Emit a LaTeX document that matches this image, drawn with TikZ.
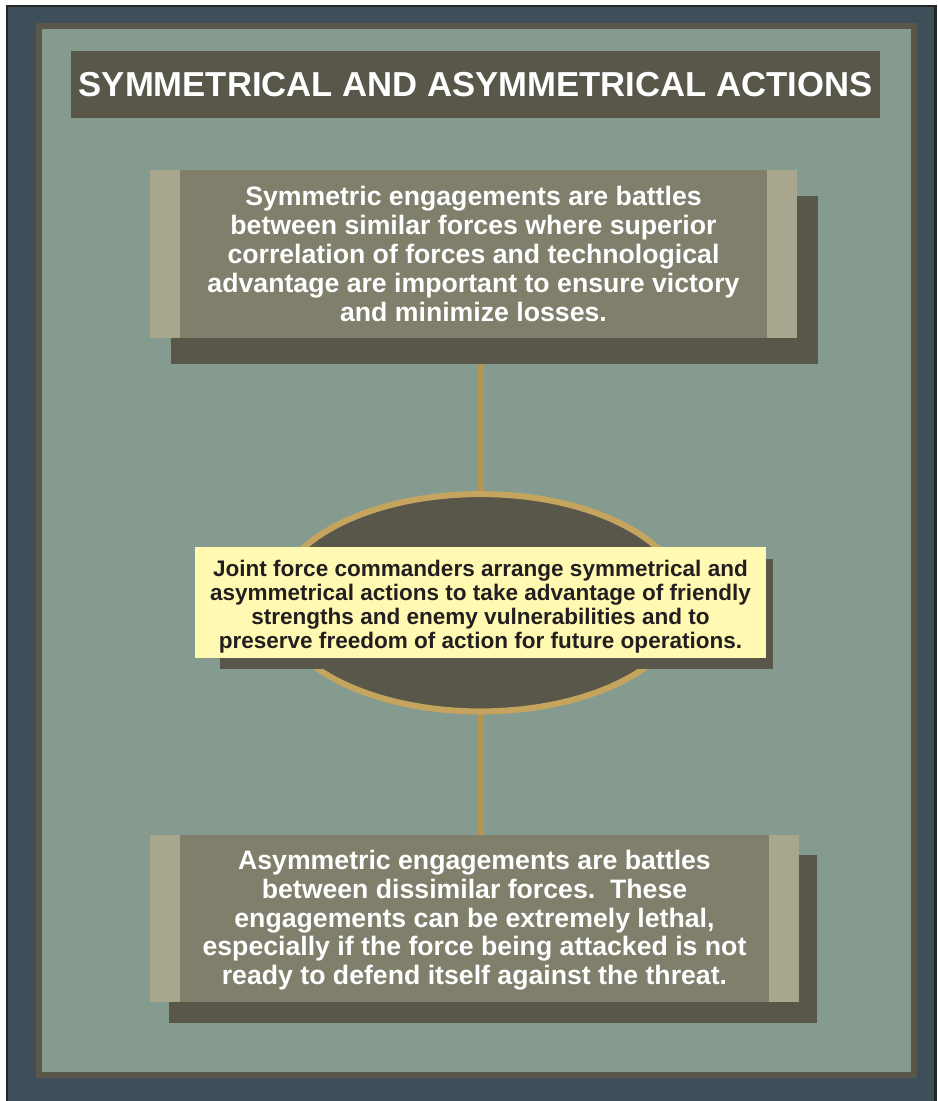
\documentclass[tikz,border=0pt]{standalone}
\usepackage{fontspec}
\setmainfont{Liberation Sans}
\usetikzlibrary{shapes.geometric,positioning}

\definecolor{slate}{HTML}{3F4F59}
\definecolor{framedark}{HTML}{58574A}
\definecolor{panelgreen}{HTML}{869B8F}
\definecolor{boxfill}{HTML}{807F6C}
\definecolor{stripfill}{HTML}{A8A68D}
\definecolor{notefill}{HTML}{FFF9B2}
\definecolor{notetext}{HTML}{231F20}
\definecolor{ringgold}{HTML}{C5A55D}
\definecolor{linkgold}{HTML}{B8954F}

\pgfdeclarelayer{frame}
\pgfdeclarelayer{links}
\pgfdeclarelayer{oval}
\pgfdeclarelayer{shade}
\pgfsetlayers{frame,links,oval,shade,main}

\begin{document}
\begin{tikzpicture}[x=0.75pt,y=-0.75pt,
  titlebox/.style={fill=framedark, text=white, inner sep=0pt, outer sep=0pt,
    minimum width=606.75pt, minimum height=50.25pt,
    font=\fontsize{26}{30}\selectfont\bfseries},
  engbox/.style={fill=boxfill, text=white, align=center, inner sep=0pt, outer sep=0pt,
    minimum width=485.25pt, minimum height=126pt,
    font=\fontsize{20}{21.6}\selectfont\bfseries},
  notebox/.style={fill=notefill, text=notetext, align=center, inner sep=0pt, outer sep=0pt,
    minimum width=428.25pt, minimum height=83.25pt,
    font=\fontsize{16.9}{18}\selectfont\bfseries},
  ring/.style={ellipse, draw=ringgold, fill=framedark, line width=4.5pt, outer sep=0pt,
    minimum width=307.5pt, minimum height=163pt},
  shade/.style={fill=framedark},
  strip/.style={fill=stripfill},
  link/.style={draw=linkgold, line width=4.5pt}]

  \useasboundingbox (0,0) rectangle (938,1101);

  % frame
  \begin{pgfonlayer}{frame}
    \fill[white] (0,0) rectangle (938,1101);
    \fill[black!85] (6,5) rectangle (937,1110);
    \fill[slate] (8,7) rectangle (934,1110);
    \fill[framedark] (36,23) rectangle (917,1078);
    \fill[panelgreen] (42,29) rectangle (911,1072);
  \end{pgfonlayer}

  \node (title) [titlebox] at (475.5,84.5) {SYMMETRICAL AND ASYMMETRICAL ACTIONS};

  \node (symm) [engbox, below=39pt of title, xshift=-1.5pt]
    {Symmetric engagements are battles\\
     between similar forces where superior\\
     correlation of forces and technological\\
     advantage are important to ensure victory\\
     and minimize losses.};

  \begin{pgfonlayer}{oval}
    \node (oval) [ring] at (480.5,602.75) {};
  \end{pgfonlayer}

  \node (joint) [notebox] at (480.5,602.5)
    {\rule{0pt}{18.5pt}Joint force commanders arrange symmetrical and\\
     asymmetrical actions to take advantage of friendly\\
     strengths and enemy vulnerabilities and to\\
     preserve freedom of action for future operations.};

  \node (asym) [engbox, minimum width=486.75pt, minimum height=125.25pt] at (474.5,918.5)
    {\rule{0pt}{17pt}Asymmetric engagements are battles\\
     between dissimilar forces.\ \ These\\
     engagements can be extremely lethal,\\
     especially if the force being attacked is not\\
     ready to defend itself against the threat.};

  % side strips
  \foreach \b in {symm,asym} {
    \fill[strip] (\b.north west) rectangle ([xshift=22.5pt]\b.south west);
    \fill[strip] (\b.north east) rectangle ([xshift=-22.5pt]\b.south east);
  }

  % shadows
  \begin{pgfonlayer}{shade}
    \fill[shade] ([shift={(21,26)}]symm.north west) rectangle ([shift={(21,26)}]symm.south east);
    \fill[shade] ([shift={(19,20)}]asym.north west) rectangle ([shift={(18,21)}]asym.south east);
    \fill[shade] ([shift={(25,12)}]joint.north west) rectangle ([shift={(7,11)}]joint.south east);
  \end{pgfonlayer}

  % links
  \begin{pgfonlayer}{links}
    \draw[link] (oval.north |- symm.south) -- (oval.north);
    \draw[link] (oval.south) -- (oval.south |- asym.north);
  \end{pgfonlayer}
\end{tikzpicture}
\end{document}
